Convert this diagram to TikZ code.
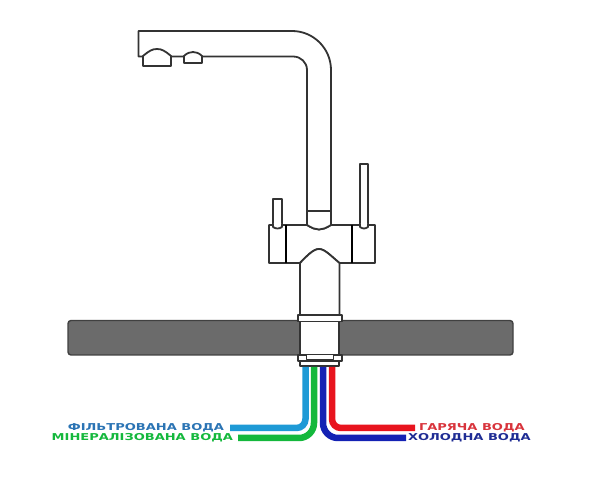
\documentclass[tikz,border=0pt]{standalone}
\usepackage{fontspec}
\setmainfont{DejaVu Sans}
\newfontfamily\WideFont{DejaVu Sans}[FakeStretch=1.37]
\usepackage{tikz}
\definecolor{CounterGray}{HTML}{6B6B6B}
\definecolor{Filtered}{HTML}{1E9AD6}
\definecolor{FilteredText}{HTML}{2B74B4}
\definecolor{Mineral}{HTML}{14B83C}
\definecolor{Hot}{HTML}{E8141E}
\definecolor{HotText}{HTML}{D8343C}
\definecolor{Cold}{HTML}{1422B4}
\definecolor{ColdText}{HTML}{1E2C94}
\tikzstyle{Part}=[draw=black!80, line width=1.8pt, fill=white, line join=round]
\tikzstyle{Pipe}=[line width=6.5pt]

\begin{document}
\begin{tikzpicture}[
  x=1pt, y=-1pt,
  Label/.style={inner sep=0, outer sep=0, font=\WideFont\fontsize{9.5}{10}\selectfont\bfseries},
  Bar/.style={line width=2.6pt, black}
]
\useasboundingbox (0,0) rectangle (603,494);

% counter
\draw[draw=black!75, fill=CounterGray, line width=1.4pt, rounded corners=3pt] (68,320.5) rectangle (513,355);

% spout
\draw[Part] (307,215) -- (331,215) -- (331,70) .. controls (331,48.5) and (313.5,31) .. (292,31) -- (138.5,31) -- (138.5,56.5) -- (293,56.5) .. controls (301,56.5) and (307,62.5) .. (307,70) -- cycle;
\draw[Part] (143,66) -- (143,56) .. controls (149,51) and (152,49) .. (157,49) .. controls (162,49) and (165,51) .. (171,56) -- (171,66) -- cycle;
\draw[Part] (184,63) -- (184,56) .. controls (187,53) and (190,52) .. (193,52) .. controls (196,52) and (199,53) .. (202,56) -- (202,63) -- cycle;

% handles
\draw[Part] (273,199) rectangle (282,227);
\draw[Part] (360,164) rectangle (368,227);

% body
\draw[Part] (269,225) -- (307,225) .. controls (312,228) and (315,229.5) .. (319,229.5) .. controls (323,229.5) and (326,228) .. (331,225) -- (375,225) -- (375,263) -- (339.5,263) .. controls (332,257) and (325,249) .. (319,249) .. controls (313,249) and (306,257) .. (300,263) -- (269,263) -- cycle;
\draw[Part] (307,211) -- (331,211) -- (331,225) .. controls (326,228) and (323,229.5) .. (319,229.5) .. controls (315,229.5) and (312,228) .. (307,225) -- cycle;
\draw[Bar] (286,225) -- (286,263);
\draw[Bar] (352,225) -- (352,263);
\draw[Part] (273,224) -- (273,227) .. controls (276,229) and (279,229) .. (282,227) -- (282,224);
\draw[Part] (360,224) -- (360,227) .. controls (363,229) and (365,229) .. (368,227) -- (368,224);

% stem
\draw[Part] (300,263) .. controls (306,257) and (313,249) .. (319,249) .. controls (325,249) and (332,257) .. (339.5,263) -- (339.5,316) -- (300,316) -- cycle;
\draw[Part] (298,315) rectangle (342,321.5);
\draw[Part] (300,321.5) rectangle (339,355);
\draw[Part] (298,355) rectangle (342,361);
\draw[Part] (300,361) rectangle (339,366);
\draw[Part, line width=1pt] (306,355) rectangle (333,360);

% labels
\node[Label, anchor=east, text=FilteredText] (filtered) at (224,428) {ФІЛЬТРОВАНА ВОДА};
\node[Label, anchor=east, text=Mineral] (mineral) at (233,438) {МІНЕРАЛІЗОВАНА ВОДА};
\node[Label, anchor=west, text=HotText] (hot) at (419,428) {ГАРЯЧА ВОДА};
\node[Label, anchor=west, text=ColdText] (cold) at (408,438) {ХОЛОДНА ВОДА};

% pipes
\coordinate (filteredTop) at (305.5,367);
\coordinate (mineralTop) at (314,367);
\coordinate (coldTop) at (323,367);
\coordinate (hotTop) at (332,367);
\draw[Pipe, Filtered, rounded corners=9pt] (filteredTop) -- (305.5,428) -- ([xshift=6pt]filtered.east);
\draw[Pipe, Mineral, rounded corners=15pt] (mineralTop) -- (314,438) -- ([xshift=5pt]mineral.east);
\draw[Pipe, Cold, rounded corners=15pt] (coldTop) -- (323,438) -- ([xshift=-2pt]cold.west);
\draw[Pipe, Hot, rounded corners=9pt] (hotTop) -- (332,428) -- ([xshift=-4pt]hot.west);

\end{tikzpicture}
\end{document}
